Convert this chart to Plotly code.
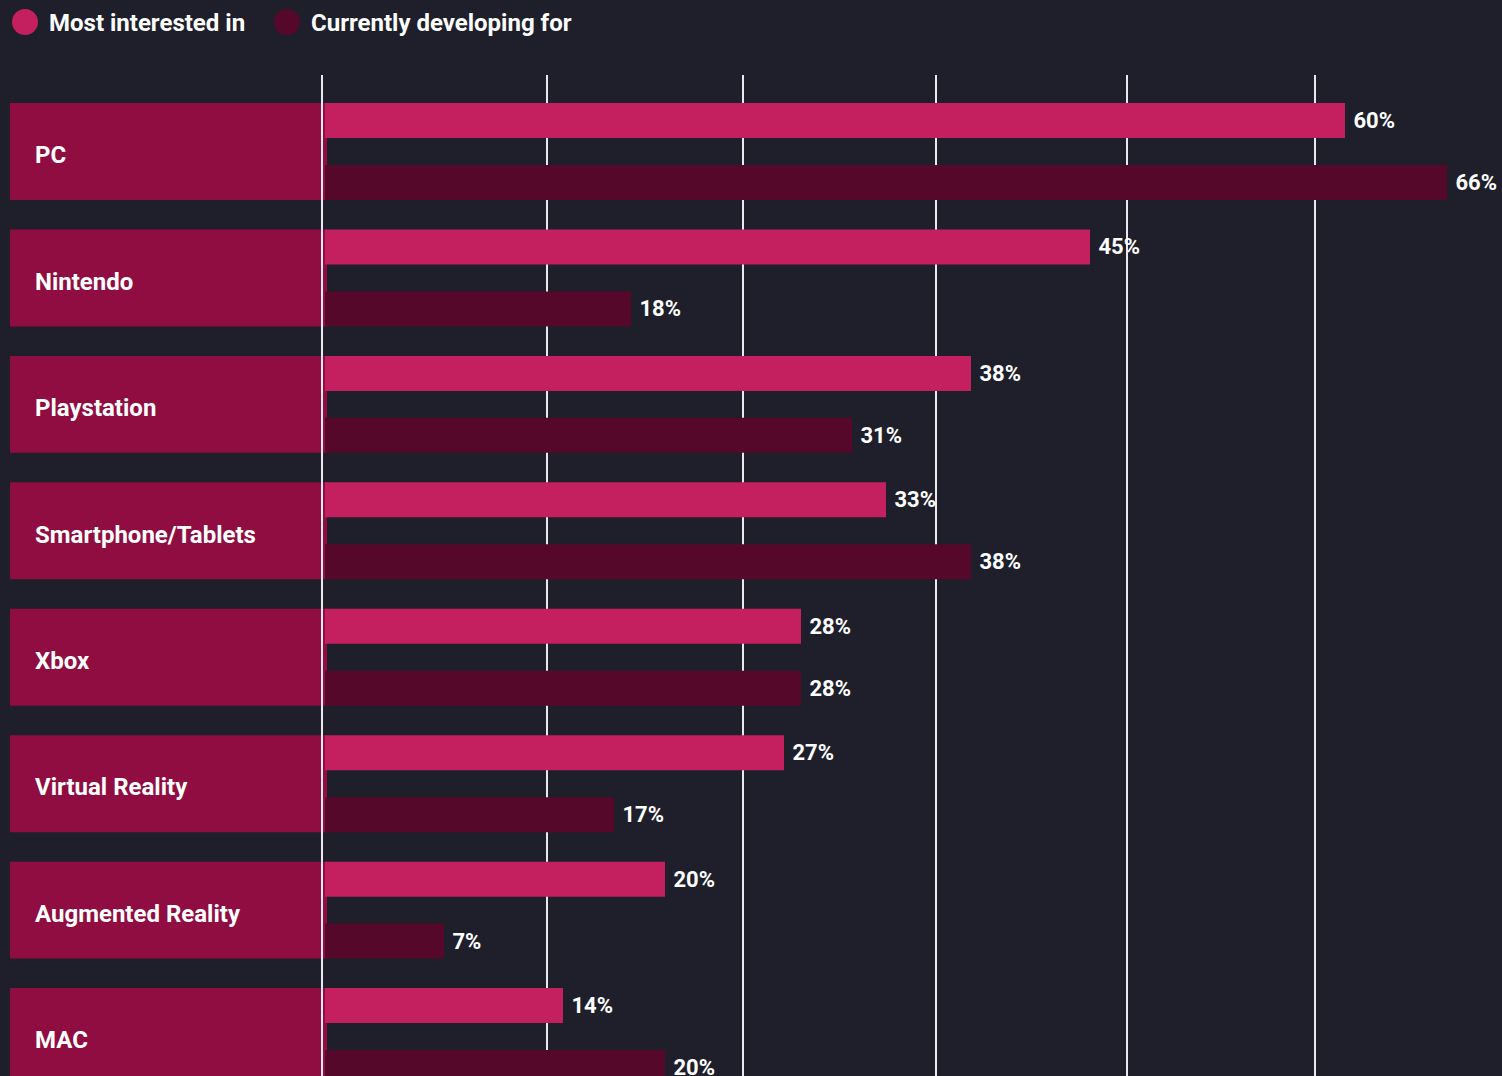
import plotly.graph_objects as go

categories = ["PC", "Nintendo", "Playstation", "Smartphone/Tablets", "Xbox",
              "Virtual Reality", "Augmented Reality", "MAC"]
most_interested = [60, 45, 38, 33, 28, 27, 20, 14]
currently_developing = [66, 18, 31, 38, 28, 17, 7, 20]
series_names = ["Most interested in", "Currently developing for"]
grid_positions = [-0.18, 13.06, 24.59, 35.94, 47.18, 58.24]

BG = "#1e1f2b"
PINK = "#c41f5f"
MAROON = "#56082a"
BOX = "#8f0d41"
FONT = "Roboto"
PAD = "\u00a0"

idx = list(range(len(categories)))
bar_w = 0.277
half = 0.3835

fig = go.Figure()
fig.add_trace(go.Bar(
    y=idx, x=most_interested, orientation="h", name=series_names[0],
    marker=dict(color=PINK, line=dict(width=0)), width=bar_w, offset=-half,
    text=[f"{PAD}{v}%" for v in most_interested], textposition="outside",
    textfont=dict(color="white", size=22, family=FONT, weight=700),
    cliponaxis=False, showlegend=False, hoverinfo="x+name"))
fig.add_trace(go.Bar(
    y=idx, x=currently_developing, orientation="h", name=series_names[1],
    marker=dict(color=MAROON, line=dict(width=0)), width=bar_w, offset=half - bar_w,
    text=[f"{PAD}{v}%" for v in currently_developing], textposition="outside",
    textfont=dict(color="white", size=22, family=FONT, weight=700),
    cliponaxis=False, showlegend=False, hoverinfo="x+name"))

shapes = []
annotations = []
for i, c in enumerate(categories):
    shapes.append(dict(type="rect", xref="paper", yref="y", x0=0, x1=(327 - 10) / 1492,
                       y0=i - half, y1=i + half, fillcolor=BOX, line=dict(width=0),
                       layer="between"))
    annotations.append(dict(xref="paper", yref="y", x=(33 - 10) / 1492, y=i + 0.03,
                            text=c, showarrow=False, xanchor="left", yanchor="middle",
                            font=dict(color="white", size=24, family=FONT, weight=700)))

# manual legend
leg_items = [(25, PINK, 47, series_names[0]), (287, MAROON, 309, series_names[1])]
for cx, col, tx, name in leg_items:
    shapes.append(dict(type="circle", xref="paper", yref="paper",
                       xsizemode="pixel", ysizemode="pixel",
                       xanchor=(cx - 10) / 1492, yanchor=(1076 - 22) / 1001,
                       x0=-13, x1=13, y0=-13, y1=13, fillcolor=col, line=dict(width=0)))
    annotations.append(dict(xref="paper", yref="paper", x=(tx - 10) / 1492,
                            y=(1076 - 23) / 1001, text=name, showarrow=False,
                            xanchor="left", yanchor="middle",
                            font=dict(color="white", size=24, family=FONT, weight=700)))

fig.update_layout(
    width=1502, height=1076,
    margin=dict(l=10, r=0, t=75, b=0),
    paper_bgcolor=BG, plot_bgcolor=BG,
    barmode="overlay",
    shapes=shapes, annotations=annotations,
    xaxis=dict(range=[(10 - 325) / 17, (1502 - 325) / 17], tickvals=grid_positions,
               showticklabels=False, showgrid=True, gridcolor="#e8e8ee", gridwidth=2,
               zeroline=False, showline=False, fixedrange=True),
    yaxis=dict(range=[7.312, -0.605], showticklabels=False, showgrid=False,
               zeroline=False, showline=False),
    uniformtext=dict(mode=False),
)
fig.write_html("out.html")
